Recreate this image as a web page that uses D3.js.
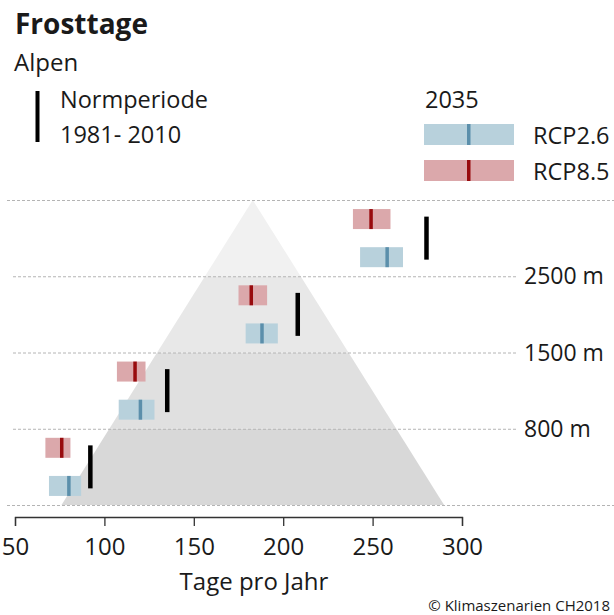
<!DOCTYPE html>
<html>
<head>
<meta charset="utf-8">
<script src="https://cdn.jsdelivr.net/npm/d3@7"></script>
<style>
  body { margin: 0; background: #fff; }
  text { font-family: "Open Sans", "Noto Sans", sans-serif; fill: #1a1a1a; }
</style>
</head>
<body>
<div id="chart"></div>
<script>
var width = 614
var height = 615

// Hoehenstufen, von unten nach oben
var levels = ["unter 800 m", "800-1500 m", "1500-2500 m", "ueber 2500 m"]
var levelLines = ["0", "800 m", "1500 m", "2500 m", "top"]
var levelShades = ["#d8d8d8", "#e0e0e0", "#e8e8e8", "#f1f1f1"]

// Normperiode 1981-2010 (Tage pro Jahr)
var normValues = [92, 135, 208, 280]

// 2035, RCP2.6: unterer Wert, Median, oberer Wert
var rcp26Low = [69, 108, 179, 243]
var rcp26Med = [80, 120, 188, 258]
var rcp26High = [87, 128, 197, 267]

// 2035, RCP8.5
var rcp85Low = [67, 107, 175, 239]
var rcp85Med = [76, 117, 182, 249]
var rcp85High = [81, 123, 191, 260]

var xTicks = [50, 100, 150, 200, 250, 300]

// Berg (Tage, Hoehenlinie)
var mountainDays = [76, 183, 290]
var mountainLevel = ["0", "top", "0"]

var svg = d3.select("#chart")
    .append("svg")
        .attr("width", width)
        .attr("height", height)

var x = d3.scaleLinear()
    .domain([50, 300])
    .range([15, 462])

var yLine = d3.scalePoint()
    .domain(levelLines)
    .range([505, 200])

var yBand = d3.scaleBand()
    .domain(levels)
    .range([505, 200])
    .paddingInner(0)

var ySub = d3.scalePoint()
    .domain(["RCP8.5", "RCP2.6"])
    .range([0, yBand.bandwidth()])
    .padding(0.5)

var barH = 20

// Berg mit Hoehenstufen
svg.append("clipPath")
    .attr("id", "mountainClip")
    .append("path")
        .attr("d", d3.line()(mountainDays.map(function(d, i){
            return [x(d), yLine(mountainLevel[i])]
        })) + "Z")

svg.append("g")
    .attr("clip-path", "url(#mountainClip)")
    .selectAll("rect")
    .data(levels)
    .enter()
    .append("rect")
        .attr("x", 0)
        .attr("width", width)
        .attr("y", function(d){ return yBand(d) })
        .attr("height", yBand.bandwidth())
        .attr("fill", function(d, i){ return levelShades[i] })

// gestrichelte Hoehenlinien
svg.append("g")
    .selectAll("line")
    .data(levelLines)
    .enter()
    .append("line")
        .attr("x1", function(d, i){ return (i == 0 || i == levelLines.length - 1) ? 7 : 13 })
        .attr("x2", function(d, i){ return (i == 0 || i == levelLines.length - 1) ? width : 517 })
        .attr("y1", function(d){ return yLine(d) + 0.5 })
        .attr("y2", function(d){ return yLine(d) + 0.5 })
        .attr("stroke", "#b4b4b4")
        .attr("stroke-width", 1)
        .attr("stroke-dasharray", "3,2")

svg.append("g")
    .selectAll("text")
    .data(levelLines.slice(1, 4))
    .enter()
    .append("text")
        .attr("x", 524)
        .attr("y", function(d){ return yLine(d) + 8 })
        .attr("font-size", 23)
        .text(function(d){ return d })

// Szenarien-Balken
function drawScenario(name, low, med, high, fill, tickColor){
    var g = svg.append("g")
    g.selectAll("rect.range")
        .data(levels)
        .enter()
        .append("rect")
            .attr("class", "range")
            .attr("x", function(d, i){ return x(low[i]) })
            .attr("width", function(d, i){ return x(high[i]) - x(low[i]) })
            .attr("y", function(d){ return yBand(d) + ySub(name) - barH / 2 })
            .attr("height", barH)
            .attr("fill", fill)
    g.selectAll("rect.med")
        .data(levels)
        .enter()
        .append("rect")
            .attr("class", "med")
            .attr("x", function(d, i){ return x(med[i]) - 1.5 })
            .attr("width", 3.5)
            .attr("y", function(d){ return yBand(d) + ySub(name) - barH / 2 })
            .attr("height", barH)
            .attr("fill", tickColor)
}
drawScenario("RCP8.5", rcp85Low, rcp85Med, rcp85High, "#dba8ab", "#980b0e")
drawScenario("RCP2.6", rcp26Low, rcp26Med, rcp26High, "#b8d1dc", "#5b8fab")

// Normperiode
svg.append("g")
    .selectAll("rect")
    .data(levels)
    .enter()
    .append("rect")
        .attr("x", function(d, i){ return x(normValues[i]) - 2 })
        .attr("width", 4.5)
        .attr("y", function(d){ return yBand(d) + yBand.bandwidth() / 2 - 21.5 })
        .attr("height", 43)
        .attr("fill", "#000")

// x-Achse
var xAxis = svg.append("g")
    .attr("transform", "translate(0,517)")
    .call(d3.axisBottom(x)
        .tickValues(xTicks)
        .tickSizeInner(9)
        .tickSizeOuter(9)
        .tickPadding(12))
xAxis.select(".domain").attr("stroke", "#333").attr("stroke-width", 1.3)
xAxis.selectAll(".tick line").attr("stroke", "#333").attr("stroke-width", 1.3)
xAxis.selectAll(".tick text")
    .attr("font-size", 24)
    .attr("font-family", "Open Sans, Noto Sans, sans-serif")
    .attr("fill", "#1a1a1a")

svg.append("text")
    .attr("x", 254)
    .attr("y", 590)
    .attr("text-anchor", "middle")
    .attr("font-size", 24)
    .text("Tage pro Jahr")

svg.append("text")
    .attr("x", 610)
    .attr("y", 611)
    .attr("text-anchor", "end")
    .attr("font-size", 15)
    .text("© Klimaszenarien CH2018")

// Titel
svg.append("text")
    .attr("x", 15)
    .attr("y", 34)
    .attr("font-size", 28)
    .attr("font-weight", "bold")
    .text("Frosttage")

svg.append("text")
    .attr("x", 14)
    .attr("y", 71)
    .attr("font-size", 24)
    .text("Alpen")

// Legende Normperiode
svg.append("rect")
    .attr("x", 35.5)
    .attr("y", 91)
    .attr("width", 4)
    .attr("height", 51)
    .attr("fill", "#000")
svg.append("text")
    .attr("x", 60)
    .attr("y", 108)
    .attr("font-size", 23.5)
    .text("Normperiode")
svg.append("text")
    .attr("x", 60)
    .attr("y", 143)
    .attr("font-size", 23.5)
    .text("1981- 2010")

// Legende 2035
svg.append("text")
    .attr("x", 425)
    .attr("y", 108)
    .attr("font-size", 23.5)
    .text("2035")

var legendItems = [
    {name: "RCP2.6", fill: "#b8d1dc", tick: "#5b8fab", y: 124},
    {name: "RCP8.5", fill: "#dba8ab", tick: "#980b0e", y: 160}
]
var leg = svg.append("g")
    .selectAll("g")
    .data(legendItems)
    .enter()
    .append("g")
leg.append("rect")
    .attr("x", 424)
    .attr("y", function(d){ return d.y })
    .attr("width", 90)
    .attr("height", 21)
    .attr("fill", function(d){ return d.fill })
leg.append("rect")
    .attr("x", 467)
    .attr("y", function(d){ return d.y })
    .attr("width", 3.5)
    .attr("height", 21)
    .attr("fill", function(d){ return d.tick })
leg.append("text")
    .attr("x", 533)
    .attr("y", function(d){ return d.y + 20 })
    .attr("font-size", 23.5)
    .text(function(d){ return d.name })
</script>
</body>
</html>
